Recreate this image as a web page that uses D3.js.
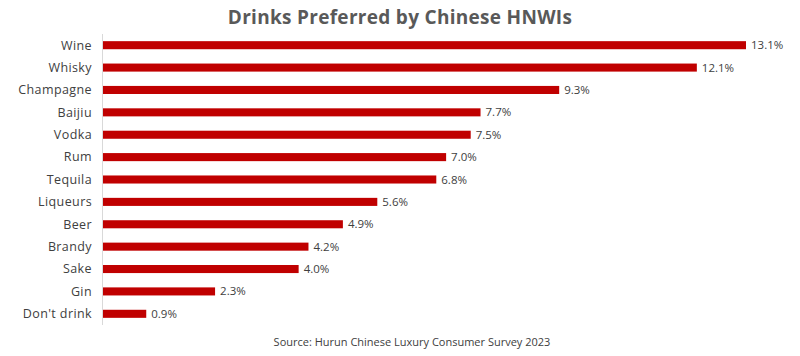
<!DOCTYPE html>
<html><head><meta charset="utf-8">
<script src="https://cdn.jsdelivr.net/npm/d3@7"></script>
<style>body{margin:0;background:#fff;} svg{display:block;font-family:"Open Sans","Lato",sans-serif;}</style>
</head><body>
<script>
const categories = ["Wine","Whisky","Champagne","Baijiu","Vodka","Rum","Tequila","Liqueurs","Beer","Brandy","Sake","Gin","Don't drink"];
const values = [13.1,12.1,9.3,7.7,7.5,7.0,6.8,5.6,4.9,4.2,4.0,2.3,0.9];
const title = "Drinks Preferred by Chinese HNWIs";
const source = "Source: Hurun Chinese Luxury Consumer Survey 2023";

const W=800,H=356;
const svg=d3.select("body").append("svg").attr("width",W).attr("height",H);
const x=d3.scaleLinear().domain([0,13.1]).range([102,746]);
const y=d3.scaleBand().domain(categories).range([34,325]).paddingInner(0.64).paddingOuter(0.32);

svg.append("text").attr("x",400).attr("y",24).attr("text-anchor","middle")
  .attr("font-size",19).attr("font-weight","bold").attr("letter-spacing",0.3).attr("fill","#595959").text(title);

svg.append("line").attr("x1",x(0)+0.5).attr("x2",x(0)+0.5).attr("y1",34).attr("y2",325)
  .attr("stroke","#d9d9d9").attr("stroke-width",1);

svg.selectAll("rect.bar").data(values).join("rect").attr("class","bar")
  .attr("x",x(0)+1).attr("y",(d,i)=>y(categories[i]))
  .attr("width",d=>x(d)-x(0)-1).attr("height",y.bandwidth()).attr("fill","#c00000");

svg.selectAll("text.cat").data(categories).join("text").attr("class","cat")
  .attr("x",92).attr("y",d=>y(d)+y.bandwidth()/2).attr("dy","0.35em")
  .attr("text-anchor","end").attr("font-size",12.5).attr("letter-spacing",0.4).attr("fill","#404040").text(d=>d);

svg.selectAll("text.val").data(values).join("text").attr("class","val")
  .attr("x",d=>x(d)+5).attr("y",(d,i)=>y(categories[i])+y.bandwidth()/2).attr("dy","0.35em")
  .attr("font-size",11.5).attr("fill","#404040").text(d=>d.toFixed(1)+"%");

svg.append("text").attr("x",412).attr("y",346).attr("text-anchor","middle")
  .attr("font-size",11).attr("fill","#404040").text(source);
</script>
</body></html>
